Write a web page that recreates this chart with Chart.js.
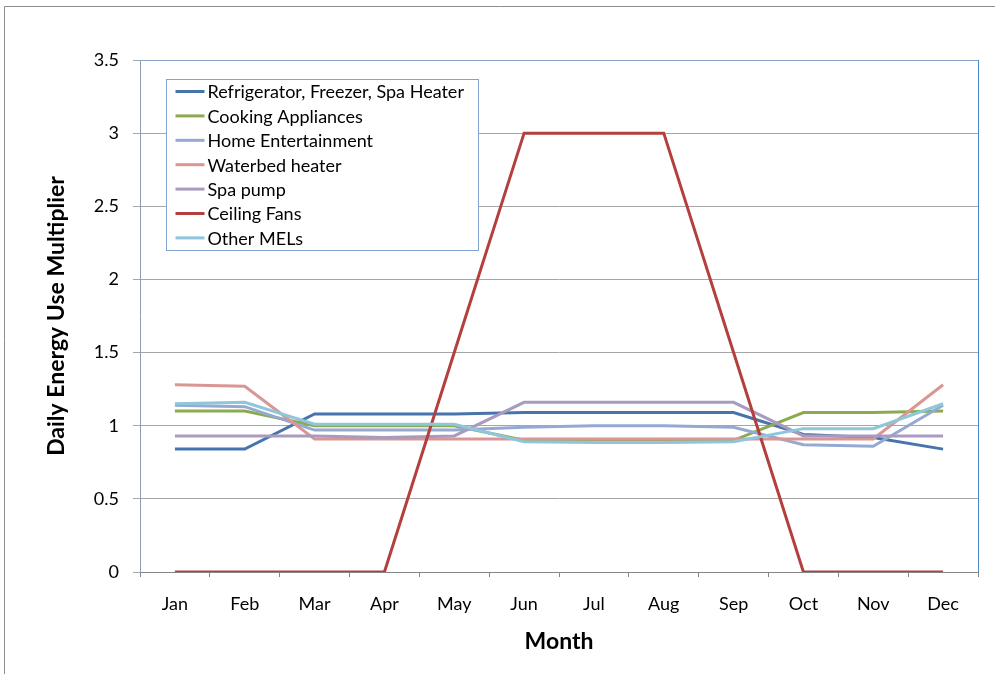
<!DOCTYPE html>
<html>
<head>
<meta charset="utf-8">
<script src="https://cdn.jsdelivr.net/npm/chart.js@4"></script>
<style>
  html, body { margin: 0; padding: 0; background: #fff; }
  #wrap { position: relative; width: 995px; height: 674px; }
</style>
</head>
<body>
<div id="wrap"><canvas id="mels"></canvas></div>
<script>
const months = ['Jan','Feb','Mar','Apr','May','Jun','Jul','Aug','Sep','Oct','Nov','Dec'];

const fridgeFreezerSpa = [0.84, 0.84, 1.08, 1.08, 1.08, 1.09, 1.09, 1.09, 1.09, 0.94, 0.92, 0.84];
const cooking          = [1.10, 1.10, 1.00, 1.00, 1.00, 0.90, 0.90, 0.90, 0.90, 1.09, 1.09, 1.10];
const homeEnt          = [1.14, 1.13, 0.97, 0.97, 0.97, 0.99, 1.00, 1.00, 0.99, 0.87, 0.86, 1.14];
const waterbed         = [1.28, 1.27, 0.91, 0.91, 0.91, 0.91, 0.91, 0.91, 0.91, 0.91, 0.91, 1.28];
const spaPump          = [0.93, 0.93, 0.93, 0.92, 0.93, 1.16, 1.16, 1.16, 1.16, 0.93, 0.93, 0.93];
const ceilingFans      = [0, 0, 0, 0, 1.5, 3, 3, 3, 1.5, 0, 0, 0];
const otherMELs        = [1.15, 1.16, 1.01, 1.01, 1.01, 0.89, 0.885, 0.885, 0.89, 0.98, 0.98, 1.15];

const seriesLabels = ['Refrigerator, Freezer, Spa Heater', 'Cooking Appliances', 'Home Entertainment',
  'Waterbed heater', 'Spa pump', 'Ceiling Fans', 'Other MELs'];
const seriesValues = [fridgeFreezerSpa, cooking, homeEnt, waterbed, spaPump, ceilingFans, otherMELs];
const seriesColors = ['#4774ab', '#8cab50', '#95a9d3', '#d99694', '#a99bbf', '#b3403e', '#8ec6da'];

const FONT = 'Lato, "Open Sans", sans-serif';

// outer frame of the figure (left + top edges only show)
const frame = {
  id: 'frame',
  beforeDraw(chart) {
    const { ctx } = chart;
    ctx.save();
    ctx.strokeStyle = '#8c8c8c';
    ctx.lineWidth = 1;
    ctx.beginPath();
    ctx.moveTo(4.5, chart.height);
    ctx.lineTo(4.5, 6.5);
    ctx.lineTo(chart.width, 6.5);
    ctx.stroke();
    ctx.restore();
  },
  afterDatasetsDraw(chart) {
    const { ctx, chartArea: a } = chart;
    ctx.save();
    ctx.lineWidth = 1;
    ctx.strokeStyle = '#8aa5c4';
    ctx.beginPath();
    ctx.moveTo(a.left, Math.round(a.top) + 0.5);
    ctx.lineTo(a.right, Math.round(a.top) + 0.5);
    ctx.stroke();
    ctx.strokeStyle = '#4a86c8';
    ctx.beginPath();
    ctx.moveTo(Math.round(a.right) + 0.5, a.top);
    ctx.lineTo(Math.round(a.right) + 0.5, a.bottom);
    ctx.stroke();
    ctx.restore();
  }
};

// legend box sitting inside the plot area, top-left
const insideLegend = {
  id: 'insideLegend',
  afterDraw(chart) {
    const { ctx, chartArea: a } = chart;
    const x = Math.round(a.left) + 26.5, y = Math.round(a.top) + 19.5;
    const w = 312, h = 171, row = 24.4;
    ctx.save();
    ctx.fillStyle = '#fff';
    ctx.fillRect(x, y, w, h);
    ctx.strokeStyle = '#7fa3d3';
    ctx.lineWidth = 1;
    ctx.strokeRect(x, y, w, h);
    ctx.font = '18px ' + FONT;
    ctx.textBaseline = 'middle';
    ctx.textAlign = 'left';
    seriesLabels.forEach((lbl, i) => {
      const cy = y + 12 + i * row;
      ctx.strokeStyle = seriesColors[i];
      ctx.lineWidth = 3;
      ctx.beginPath();
      ctx.moveTo(x + 9, cy);
      ctx.lineTo(x + 38, cy);
      ctx.stroke();
      ctx.fillStyle = '#000';
      ctx.fillText(lbl, x + 41, cy + 1);
    });
    ctx.restore();
  }
};

new Chart(document.getElementById('mels'), {
  type: 'line',
  data: {
    labels: months,
    datasets: seriesValues.map((vals, i) => ({
      label: seriesLabels[i],
      data: vals,
      borderColor: seriesColors[i],
      backgroundColor: seriesColors[i],
      borderWidth: 3,
      pointRadius: 0,
      tension: 0,
      fill: false,
      order: seriesValues.length - i
    }))
  },
  options: {
    responsive: true,
    maintainAspectRatio: false,
    animation: false,
    layout: { padding: { top: 60, right: 17, left: 0, bottom: 0 } },
    plugins: { legend: { display: false }, tooltip: { enabled: false } },
    scales: {
      x: {
        offset: true,
        grid: { offset: true, drawOnChartArea: false, color: '#868686', tickLength: 5 },
        border: { color: '#868686' },
        ticks: { font: { family: FONT, size: 18 }, color: '#000', padding: 16, maxRotation: 0 },
        title: { display: true, text: 'Month', font: { family: FONT, size: 23, weight: 'bold' }, color: '#000', padding: { top: 0, bottom: 19 } },
        afterFit(s) { s.height = 102; }
      },
      y: {
        min: 0, max: 3.5,
        ticks: { stepSize: 0.5, font: { family: FONT, size: 18 }, color: '#000', padding: 14,
          callback: v => String(v) },
        grid: { color: '#a6a6a6', tickLength: 7 },
        border: { color: '#8b9cb3' },
        title: { display: true, text: 'Daily Energy Use Multiplier', font: { family: FONT, size: 23, weight: 'bold' }, color: '#000', padding: { top: 43, bottom: 0 } },
        afterFit(s) { s.width = 140; }
      }
    }
  },
  plugins: [frame, insideLegend]
});
</script>
</body>
</html>
